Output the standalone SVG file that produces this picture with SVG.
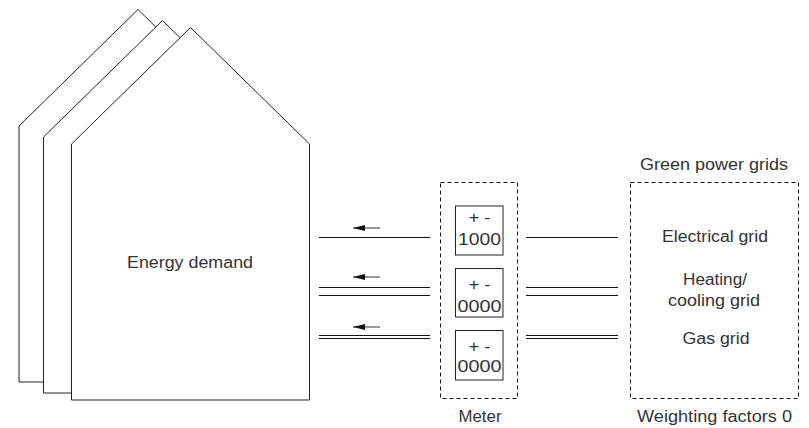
<svg xmlns="http://www.w3.org/2000/svg" width="809" height="428" viewBox="0 0 809 428">
<style>
  .house { fill: #ffffff; stroke: #222222; stroke-width: 1; }
  .dash { fill: none; stroke: #111111; stroke-width: 1; stroke-dasharray: 4 3; }
  .box { fill: #ffffff; stroke: #222222; stroke-width: 1; }
  .ln { stroke: #111111; stroke-width: 1; fill: none; }
  .arr { stroke: #333333; stroke-width: 1; fill: none; }
  .t { font-family: "Liberation Sans", Arial, sans-serif; font-size: 16px; fill: #333333; text-anchor: middle; }
  .d { font-family: "Liberation Sans", Arial, sans-serif; font-size: 16.5px; fill: #333333; text-anchor: middle; }
</style>
<defs>
  <path id="houseShape" d="M71.5,144 L190.5,27.5 L309.5,144 L309.5,400 L71.5,400 Z"/>
  <marker id="ah" markerWidth="12" markerHeight="6" refX="12" refY="3" orient="auto" markerUnits="userSpaceOnUse">
    <path d="M0,0 L12,3 L0,6 Z" fill="#111111"/>
  </marker>
</defs>

<g id="house-back">
  <use href="#houseShape" class="house" transform="translate(-52.5,-18)"/>
</g>
<g id="house-middle">
  <use href="#houseShape" class="house" transform="translate(-28,-7)"/>
</g>
<g id="house-front">
  <use href="#houseShape" class="house"/>
  <text class="t" x="190" y="267.5" font-size="16.5" textLength="126" lengthAdjust="spacingAndGlyphs">Energy demand</text>
</g>

<g id="meter">
  <rect class="dash" x="440.5" y="182.5" width="77" height="216"/>
  <text class="t" x="480" y="422" textLength="43" lengthAdjust="spacingAndGlyphs">Meter</text>
</g>
<g id="meter-electrical">
  <rect class="box" x="455.5" y="206" width="47.5" height="49"/>
  <text class="d" x="479.5" y="223" textLength="22" lengthAdjust="spacingAndGlyphs">+ -</text>
  <text class="d" x="479.5" y="245" textLength="43" lengthAdjust="spacingAndGlyphs">1000</text>
</g>
<g id="meter-heating">
  <rect class="box" x="455.5" y="268.5" width="47.5" height="48.5"/>
  <text class="d" x="479.5" y="290" textLength="22" lengthAdjust="spacingAndGlyphs">+ -</text>
  <text class="d" x="479.5" y="311.5" textLength="44" lengthAdjust="spacingAndGlyphs">0000</text>
</g>
<g id="meter-gas">
  <rect class="box" x="455.5" y="330.5" width="47.5" height="49.5"/>
  <text class="d" x="479.5" y="351.5" textLength="22" lengthAdjust="spacingAndGlyphs">+ -</text>
  <text class="d" x="479.5" y="372" textLength="44" lengthAdjust="spacingAndGlyphs">0000</text>
</g>

<g id="grids">
  <text class="t" x="714" y="170" textLength="148" lengthAdjust="spacingAndGlyphs">Green power grids</text>
  <rect class="dash" x="630.5" y="182.5" width="168" height="216"/>
  <text class="t" x="715" y="242" textLength="106" lengthAdjust="spacingAndGlyphs">Electrical grid</text>
  <text class="t" x="715" y="285" textLength="64" lengthAdjust="spacingAndGlyphs">Heating/</text>
  <text class="t" x="714" y="306" textLength="92" lengthAdjust="spacingAndGlyphs">cooling grid</text>
  <text class="t" x="716" y="344" textLength="67" lengthAdjust="spacingAndGlyphs">Gas grid</text>
  <text class="t" x="714.5" y="422" textLength="155" lengthAdjust="spacingAndGlyphs">Weighting factors 0</text>
</g>

<g id="connectors">
  <line class="ln" x1="319" y1="237.5" x2="430" y2="237.5"/>
  <line class="ln" x1="526" y1="237.5" x2="618" y2="237.5"/>
  <line class="ln" x1="319" y1="287.5" x2="430" y2="287.5"/>
  <line class="ln" x1="319" y1="295.5" x2="430" y2="295.5"/>
  <line class="ln" x1="526" y1="287.5" x2="618" y2="287.5"/>
  <line class="ln" x1="526" y1="295.5" x2="618" y2="295.5"/>
  <line class="ln" x1="319" y1="335.5" x2="430" y2="335.5"/>
  <line class="ln" x1="319" y1="338.5" x2="430" y2="338.5"/>
  <line class="ln" x1="526" y1="335.5" x2="618" y2="335.5"/>
  <line class="ln" x1="526" y1="338.5" x2="618" y2="338.5"/>
  <line class="arr" x1="380" y1="228" x2="353" y2="228" marker-end="url(#ah)"/>
  <line class="arr" x1="380" y1="277" x2="353" y2="277" marker-end="url(#ah)"/>
  <line class="arr" x1="380" y1="327" x2="353" y2="327" marker-end="url(#ah)"/>
</g>
</svg>
